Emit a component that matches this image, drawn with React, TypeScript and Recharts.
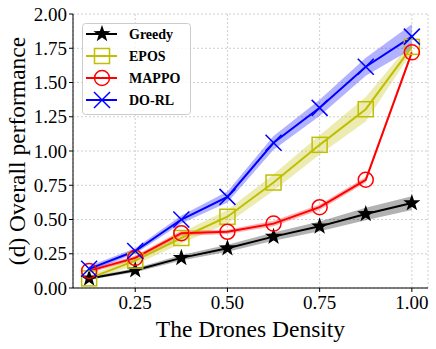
import React from 'react';
import {
  ComposedChart, Line, Area, XAxis, YAxis, CartesianGrid,
} from 'recharts';

const densities = [0.125, 0.25, 0.375, 0.5, 0.625, 0.75, 0.875, 1.0];
const greedy = [0.07, 0.13, 0.22, 0.29, 0.375, 0.45, 0.54, 0.62];
const greedyErr = [0.01, 0.015, 0.02, 0.025, 0.03, 0.035, 0.045, 0.05];
const epos = [0.07, 0.2, 0.365, 0.52, 0.77, 1.045, 1.305, 1.76];
const eposErr = [0.02, 0.03, 0.04, 0.05, 0.06, 0.07, 0.09, 0.04];
const mappo = [0.125, 0.22, 0.4, 0.41, 0.47, 0.59, 0.79, 1.72];
const mappoErr = [0.015, 0.015, 0.02, 0.015, 0.02, 0.02, 0.02, 0.02];
const dorl = [0.14, 0.27, 0.5, 0.665, 1.06, 1.315, 1.615, 1.835];
const dorlErr = [0.02, 0.02, 0.03, 0.04, 0.05, 0.06, 0.065, 0.09];

const xTicks = [0.25, 0.5, 0.75, 1.0];
const yTicks = [0, 0.25, 0.5, 0.75, 1.0, 1.25, 1.5, 1.75, 2.0];

const FONT = '"Liberation Serif", "Times New Roman", serif';
const YELLOW = '#bfbf00';

const data = densities.map((x, i) => ({
  x,
  greedy: greedy[i],
  greedyBand: [greedy[i] - greedyErr[i], greedy[i] + greedyErr[i]],
  epos: epos[i],
  eposBand: [epos[i] - eposErr[i], epos[i] + eposErr[i]],
  mappo: mappo[i],
  mappoBand: [mappo[i] - mappoErr[i], mappo[i] + mappoErr[i]],
  dorl: dorl[i],
  dorlBand: [dorl[i] - dorlErr[i], dorl[i] + dorlErr[i]],
}));

const starPath = (cx: number, cy: number, R: number) => {
  const r = R * 0.4;
  let d = '';
  for (let k = 0; k < 10; k++) {
    const rad = k % 2 === 0 ? R : r;
    const a = -Math.PI / 2 + (k * Math.PI) / 5;
    d += `${k === 0 ? 'M' : 'L'}${cx + rad * Math.cos(a)},${cy + rad * Math.sin(a)}`;
  }
  return d + 'Z';
};

const StarDot = (p: any) => <path key={p.index} d={starPath(p.cx, p.cy, 9)} fill="#000" />;
const SquareDot = (p: any) => (
  <rect key={p.index} x={p.cx - 7.5} y={p.cy - 7.5} width={15} height={15} fill="none" stroke={YELLOW} strokeWidth={1.5} />
);
const CircleDot = (p: any) => (
  <circle key={p.index} cx={p.cx} cy={p.cy} r={7.5} fill="none" stroke="#ff0000" strokeWidth={1.5} />
);
const CrossDot = (p: any) => (
  <path key={p.index} d={`M${p.cx - 8},${p.cy - 8}L${p.cx + 8},${p.cy + 8}M${p.cx - 8},${p.cy + 8}L${p.cx + 8},${p.cy - 8}`} stroke="#0000ff" strokeWidth={1.5} />
);

const legendItems = [
  { name: 'Greedy', color: '#000', Dot: StarDot },
  { name: 'EPOS', color: YELLOW, Dot: SquareDot },
  { name: 'MAPPO', color: '#ff0000', Dot: CircleDot },
  { name: 'DO-RL', color: '#0000ff', Dot: CrossDot },
];

const YLabel = () => (
  <text x={0} y={0} transform="translate(25,151) rotate(-90)" textAnchor="middle" fontSize={23.5} fontFamily={FONT} fill="#000">
    (d) Overall performance
  </text>
);

export default function App() {
  return (
    <div style={{ position: 'absolute', left: 0, top: 0, width: 436, height: 349, background: '#fff' }}>
      <ComposedChart width={436} height={349} data={data} margin={{ top: 14, right: 8, bottom: 0, left: 0 }}>
        <CartesianGrid stroke="#d0d0d0" strokeDasharray="2 2" />
        <XAxis
          type="number" dataKey="x" domain={[0.08125, 1.04375]} ticks={xTicks} allowDataOverflow
          tickFormatter={(v: number) => v.toFixed(2)} height={61} tickSize={4} tickMargin={4}
          stroke="#000" tick={{ fill: '#000', fontSize: 19, fontFamily: FONT }}
          label={{ value: 'The Drones Density', position: 'insideBottom', offset: 12, fontSize: 23.5, fontFamily: FONT, fill: '#000' }}
        />
        <XAxis xAxisId="top" orientation="top" type="number" dataKey="x" domain={[0.08125, 1.04375]} height={0} tick={false} tickLine={false} stroke="#000" allowDataOverflow />
        <YAxis
          type="number" domain={[0, 2]} ticks={yTicks} allowDataOverflow width={73}
          tickFormatter={(v: number) => v.toFixed(2)} tickSize={4} tickMargin={2}
          stroke="#000" tick={{ fill: '#000', fontSize: 19, fontFamily: FONT }}
          label={<YLabel />}
        />
        <YAxis yAxisId="right" orientation="right" domain={[0, 2]} width={0} tick={false} tickLine={false} stroke="#000" />
        <Area type="linear" dataKey="greedyBand" stroke="none" fill="#000" fillOpacity={0.3} isAnimationActive={false} />
        <Area type="linear" dataKey="eposBand" stroke="none" fill={YELLOW} fillOpacity={0.3} isAnimationActive={false} />
        <Area type="linear" dataKey="mappoBand" stroke="none" fill="#ff0000" fillOpacity={0.3} isAnimationActive={false} />
        <Area type="linear" dataKey="dorlBand" stroke="none" fill="#0000ff" fillOpacity={0.3} isAnimationActive={false} />
        <Line type="linear" dataKey="greedy" stroke="#000" strokeWidth={2} dot={StarDot} activeDot={false} isAnimationActive={false} />
        <Line type="linear" dataKey="epos" stroke={YELLOW} strokeWidth={2} dot={SquareDot} activeDot={false} isAnimationActive={false} />
        <Line type="linear" dataKey="mappo" stroke="#ff0000" strokeWidth={2} dot={CircleDot} activeDot={false} isAnimationActive={false} />
        <Line type="linear" dataKey="dorl" stroke="#0000ff" strokeWidth={2} dot={CrossDot} activeDot={false} isAnimationActive={false} />
      </ComposedChart>
      <svg style={{ position: 'absolute', left: 82, top: 23 }} width={109} height={92}>
        <rect x={0.5} y={0.5} width={108} height={91} rx={3} fill="#fff" fillOpacity={0.8} stroke="#cccccc" />
        {legendItems.map((item, i) => {
          const cy = 11 + i * 22;
          return (
            <g key={item.name}>
              <line x1={4} x2={35} y1={cy} y2={cy} stroke={item.color} strokeWidth={2} />
              <item.Dot cx={20} cy={cy} index={i} />
              <text x={47} y={cy + 5} fontSize={14} fontWeight="bold" fontFamily={FONT} fill="#000">{item.name}</text>
            </g>
          );
        })}
      </svg>
    </div>
  );
}
